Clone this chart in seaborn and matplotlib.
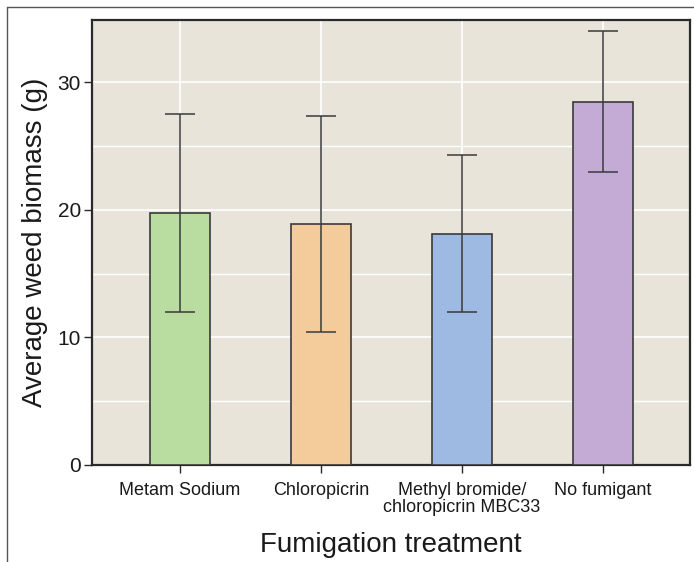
import matplotlib
matplotlib.use("Agg")
import matplotlib.pyplot as plt
from matplotlib.lines import Line2D
from matplotlib.ticker import MultipleLocator
import seaborn as sns
import pandas as pd
import numpy as np

categories = ["Metam Sodium", "Chloropicrin", "Methyl bromide/\nchloropicrin MBC33", "No fumigant"]
means = [19.8, 18.9, 18.1, 28.5]
err_upper = [27.5, 27.4, 24.3, 34.0]
err_lower = [12.0, 10.4, 12.0, 23.0]
colors = ["#b9dca0", "#f4cc9c", "#9fbae2", "#c4abd5"]

df = pd.DataFrame({"treatment": categories, "biomass": means})

sns.set_theme(style="darkgrid")
plt.rcParams["font.family"] = ["Liberation Sans", "DejaVu Sans"]

fig = plt.figure(figsize=(6.94, 5.62), dpi=100)
ax = fig.add_axes([92/694, 1-465/562, (690-92)/694, (465-20)/562])
ax.set_facecolor("#e8e4da")

sns.barplot(data=df, x="treatment", y="biomass", hue="treatment", palette=colors,
            order=categories, hue_order=categories, legend=False, errorbar=None,
            saturation=1, width=0.425, edgecolor="#3a3a3a", linewidth=1.2, ax=ax, zorder=3)

m = np.array(means)
yerr = np.vstack([m - np.array(err_lower), np.array(err_upper) - m])
ax.errorbar(np.arange(len(categories)), m, yerr=yerr, fmt="none", ecolor="#3a3a3a",
            elinewidth=1.1, capsize=10.5, capthick=1.1, zorder=4)

ax.set_xlim(-0.625, 3.62)
ax.set_ylim(0, 34.9)
ax.yaxis.set_major_locator(MultipleLocator(10))
ax.yaxis.set_minor_locator(MultipleLocator(5))
ax.grid(True, which="major", color="white", linewidth=1.2, zorder=0)
ax.grid(True, which="minor", axis="y", color="white", linewidth=1.0, zorder=0)
ax.set_axisbelow(True)

for s in ax.spines.values():
    s.set_visible(True)
    s.set_color("#2a2a2a")
    s.set_linewidth(1.6)

ax.tick_params(axis="both", which="major", direction="out", length=6, width=1.0,
               color="#2a2a2a", left=True, bottom=True)
ax.tick_params(axis="y", which="minor", left=False)
ax.tick_params(axis="y", labelsize=15, pad=2, labelcolor="#1a1a1a")
ax.tick_params(axis="x", labelsize=13, pad=6, labelcolor="#1a1a1a")
for lab in ax.get_xticklabels():
    lab.set_linespacing(1.05)

ax.set_xlabel("Fumigation treatment", fontsize=20, color="#1a1a1a", labelpad=11)
ax.set_ylabel("Average weed biomass (g)", fontsize=20, color="#1a1a1a", labelpad=7)

fig.add_artist(Line2D([7/694, 7/694], [0, 1-7/562], color="#555555", linewidth=1.0,
                      transform=fig.transFigure))
fig.add_artist(Line2D([7/694, 1], [1-7/562, 1-7/562], color="#555555", linewidth=1.0,
                      transform=fig.transFigure))

fig.savefig("out.png", dpi=100, facecolor="white")
